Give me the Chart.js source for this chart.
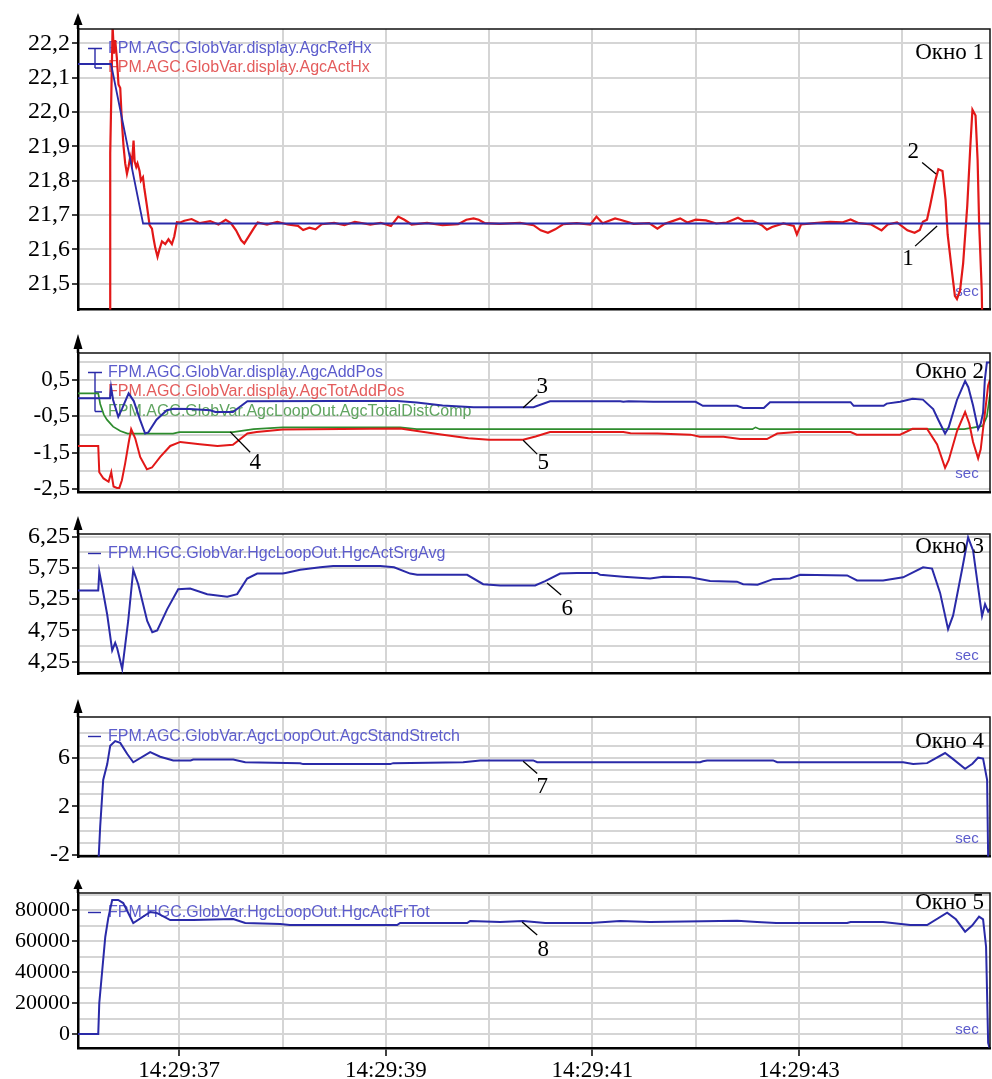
<!DOCTYPE html>
<html lang="ru">
<head>
<meta charset="utf-8">
<title>AGC / HGC — Окна 1–5</title>
<script src="https://cdn.jsdelivr.net/npm/chart.js@4.4.1/dist/chart.umd.min.js"></script>
<style>
  html, body { margin: 0; padding: 0; background: #fff; overflow: hidden; }
  #wrap { position: relative; width: 992px; height: 1079px; }
  canvas { position: absolute; left: 0; }
</style>
</head>
<body>
<div id="wrap">
  <canvas id="w1" width="992" height="326" style="top:0px"></canvas>
  <canvas id="w2" width="992" height="182" style="top:326px"></canvas>
  <canvas id="w3" width="992" height="182" style="top:508px"></canvas>
  <canvas id="w4" width="992" height="183" style="top:690px"></canvas>
  <canvas id="w5" width="992" height="206" style="top:873px"></canvas>
</div>
<script>
// time axis (seconds of 14:29:xx)
const X_MIN = 36.02, X_MAX = 44.85;
const secGrid = [37, 38, 39, 40, 41, 42, 43, 44];
const secLabels = [37, 39, 41, 43];

// Окно 1
const agcRefHx = [[36.02, 22.14], [36.34, 22.14], [36.65, 21.675], [44.85, 21.675]];
const agcActHx = [
  [36.33, 21.30], [36.332, 21.88], [36.342, 22.04], [36.355, 22.25], [36.368, 22.17], [36.38, 22.21],
  [36.397, 22.155], [36.412, 22.08], [36.429, 22.07], [36.445, 21.97], [36.461, 21.90], [36.477, 21.85],
  [36.494, 21.82], [36.509, 21.84], [36.526, 21.87], [36.542, 21.85], [36.558, 21.917], [36.568, 21.856],
  [36.584, 21.84], [36.596, 21.85], [36.616, 21.828], [36.629, 21.80], [36.649, 21.81], [36.661, 21.78],
  [36.687, 21.727], [36.713, 21.67], [36.736, 21.66], [36.751, 21.632], [36.768, 21.604], [36.79, 21.578],
  [36.809, 21.60], [36.833, 21.623], [36.865, 21.615], [36.896, 21.629], [36.929, 21.615], [36.952, 21.637],
  [36.978, 21.679], [37.01, 21.678], [37.05, 21.683], [37.12, 21.688], [37.2, 21.676], [37.3, 21.682],
  [37.38, 21.672], [37.45, 21.686], [37.5, 21.676], [37.55, 21.655], [37.6, 21.626], [37.63, 21.617],
  [37.67, 21.636], [37.72, 21.66], [37.76, 21.678], [37.85, 21.672], [37.95, 21.68], [38.05, 21.672],
  [38.15, 21.668], [38.2, 21.656], [38.26, 21.663], [38.32, 21.658], [38.38, 21.673], [38.5, 21.677],
  [38.6, 21.67], [38.7, 21.68], [38.85, 21.672], [38.95, 21.677], [39.05, 21.668], [39.12, 21.695],
  [39.18, 21.686], [39.25, 21.672], [39.4, 21.677], [39.55, 21.67], [39.7, 21.673], [39.78, 21.686],
  [39.85, 21.69], [39.9, 21.686], [39.96, 21.676], [40.1, 21.674], [40.3, 21.677], [40.43, 21.67],
  [40.5, 21.655], [40.57, 21.648], [40.64, 21.658], [40.72, 21.673], [40.85, 21.676], [40.98, 21.672],
  [41.04, 21.695], [41.1, 21.676], [41.22, 21.69], [41.27, 21.686], [41.4, 21.674], [41.55, 21.676],
  [41.63, 21.66], [41.7, 21.674], [41.85, 21.69], [41.92, 21.678], [42.0, 21.686], [42.1, 21.684],
  [42.2, 21.675], [42.3, 21.678], [42.41, 21.692], [42.47, 21.682], [42.55, 21.683], [42.64, 21.67],
  [42.69, 21.657], [42.74, 21.665], [42.85, 21.675], [42.95, 21.668], [42.98, 21.643], [43.02, 21.672],
  [43.15, 21.676], [43.3, 21.68], [43.42, 21.678], [43.5, 21.687], [43.58, 21.676], [43.7, 21.672],
  [43.8, 21.655], [43.86, 21.672], [43.95, 21.678], [44.05, 21.655], [44.12, 21.648], [44.17, 21.656],
  [44.2, 21.68], [44.24, 21.686], [44.27, 21.727], [44.32, 21.80], [44.35, 21.833], [44.39, 21.828],
  [44.42, 21.744], [44.44, 21.643], [44.48, 21.539], [44.51, 21.464], [44.53, 21.455], [44.56, 21.48],
  [44.59, 21.559], [44.63, 21.727], [44.66, 21.903], [44.68, 22.007], [44.71, 21.99], [44.73, 21.86],
  [44.745, 21.673], [44.77, 21.48], [44.78, 21.30]
];
const y1Grid = [21.5, 21.6, 21.7, 21.8, 21.9, 22.0, 22.1, 22.2];
const y1Labels = y1Grid;

// Окно 2
const agcAddPos = [
  [36.02, 0.0], [36.33, 0.0], [36.34, 0.3], [36.36, -0.05], [36.41, -0.51], [36.445, -0.3], [36.51, 0.13],
  [36.56, -0.08], [36.62, -0.59], [36.67, -0.97], [36.70, -0.94], [36.78, -0.59], [36.88, -0.33],
  [36.945, -0.29], [37.1, -0.3], [37.3, -0.33], [37.35, -0.38], [37.52, -0.38], [37.66, -0.085],
  [38.5, -0.08], [39.11, -0.08], [39.3, -0.12], [39.55, -0.2], [39.85, -0.25], [40.43, -0.25],
  [40.59, -0.085], [41.27, -0.085], [41.3, -0.1], [41.35, -0.085], [41.59, -0.1], [42.0, -0.1],
  [42.07, -0.21], [42.4, -0.21], [42.46, -0.27], [42.66, -0.27], [42.72, -0.11], [43.5, -0.11],
  [43.53, -0.21], [43.82, -0.21], [43.85, -0.15], [43.98, -0.1], [44.1, -0.02], [44.2, -0.04],
  [44.3, -0.3], [44.35, -0.6], [44.415, -0.97], [44.45, -0.8], [44.53, -0.05], [44.609, 0.47],
  [44.64, 0.3], [44.686, -0.2], [44.735, -0.85], [44.76, -0.7], [44.783, -0.4], [44.8, 0.5],
  [44.82, 0.98], [44.85, 0.98]
];
const agcTotAddPos = [
  [36.02, -1.31], [36.216, -1.31], [36.226, -2.03], [36.267, -2.2], [36.316, -2.29], [36.342, -2.03],
  [36.364, -2.42], [36.397, -2.46], [36.42, -2.46], [36.445, -2.25], [36.477, -1.78], [36.51, -1.23],
  [36.535, -0.85], [36.574, -1.1], [36.622, -1.61], [36.687, -1.95], [36.736, -1.9], [36.816, -1.61],
  [36.913, -1.31], [37.01, -1.2], [37.2, -1.26], [37.37, -1.31], [37.52, -1.28], [37.66, -0.97],
  [37.75, -0.93], [38.0, -0.86], [39.14, -0.83], [39.5, -0.98], [39.8, -1.1], [40.0, -1.14],
  [40.33, -1.14], [40.45, -1.05], [40.59, -0.93], [41.3, -0.93], [41.37, -0.96], [41.63, -0.97],
  [41.95, -1.0], [42.04, -1.06], [42.27, -1.06], [42.43, -1.12], [42.69, -1.12], [42.79, -0.97],
  [42.98, -0.93], [43.5, -0.93], [43.56, -1.0], [43.98, -1.0], [44.1, -0.84], [44.24, -0.84],
  [44.338, -1.27], [44.415, -1.91], [44.45, -1.7], [44.531, -0.9], [44.609, -0.38], [44.65, -0.7],
  [44.686, -1.2], [44.735, -1.65], [44.76, -1.4], [44.783, -0.84], [44.832, 0.35], [44.85, 0.5]
];
const agcTotalDistComp = [
  [36.02, 0.13], [36.216, 0.13], [36.235, -0.16], [36.27, -0.45], [36.3, -0.59], [36.36, -0.78],
  [36.43, -0.9], [36.5, -0.97], [36.94, -0.97], [37.0, -0.93], [37.52, -0.93], [37.72, -0.85],
  [38.0, -0.8], [39.14, -0.8], [39.3, -0.85], [42.55, -0.85], [42.58, -0.8], [42.62, -0.85],
  [44.6, -0.85], [44.7, -0.8], [44.78, -0.76], [44.82, -0.5], [44.85, 0.1]
];
const y2Grid = [-2.5, -2, -1.5, -1, -0.5, 0, 0.5, 1];
const y2Labels = [-2.5, -1.5, -0.5, 0.5];

// Окно 3
const hgcActSrgAvg = [
  [36.02, 5.39], [36.216, 5.39], [36.226, 5.69], [36.255, 5.44], [36.303, 5.0], [36.351, 4.43],
  [36.38, 4.55], [36.4, 4.46], [36.448, 4.13], [36.506, 4.9], [36.555, 5.72], [36.603, 5.49],
  [36.69, 4.9], [36.739, 4.72], [36.787, 4.75], [36.884, 5.09], [36.99, 5.41], [37.106, 5.42],
  [37.271, 5.33], [37.465, 5.29], [37.561, 5.33], [37.658, 5.58], [37.755, 5.66], [38.0, 5.66],
  [38.03, 5.67], [38.171, 5.72], [38.365, 5.76], [38.491, 5.78], [38.946, 5.78], [39.08, 5.76],
  [39.236, 5.66], [39.304, 5.64], [39.788, 5.64], [39.943, 5.49], [40.107, 5.47], [40.446, 5.47],
  [40.543, 5.54], [40.688, 5.66], [40.85, 5.67], [41.046, 5.67], [41.076, 5.64], [41.298, 5.61],
  [41.559, 5.58], [41.685, 5.61], [41.947, 5.6], [42.14, 5.54], [42.4, 5.53], [42.46, 5.49],
  [42.6, 5.48], [42.75, 5.57], [42.915, 5.58], [43.012, 5.64], [43.467, 5.63], [43.563, 5.55],
  [43.815, 5.55], [44.009, 5.6], [44.202, 5.76], [44.289, 5.74], [44.367, 5.35], [44.444, 4.77],
  [44.493, 4.99], [44.58, 5.73], [44.638, 6.24], [44.686, 6.03], [44.773, 4.98], [44.802, 5.17],
  [44.832, 5.05], [44.85, 5.1]
];
const y3Grid = [4.25, 4.5, 4.75, 5, 5.25, 5.5, 5.75, 6, 6.25];
const y3Labels = [4.25, 4.75, 5.25, 5.75, 6.25];

// Окно 4
const agcStandStretch = [
  [36.21, -4], [36.235, 0.36], [36.264, 4.17], [36.303, 5.47], [36.332, 6.99], [36.38, 7.37],
  [36.429, 7.22], [36.497, 6.3], [36.555, 5.62], [36.719, 6.46], [36.816, 6.08], [36.942, 5.77],
  [37.11, 5.77], [37.136, 5.85], [37.523, 5.85], [37.639, 5.62], [38.171, 5.54], [38.2, 5.47],
  [39.043, 5.47], [39.072, 5.55], [39.749, 5.62], [39.914, 5.77], [40.427, 5.77], [40.466, 5.62],
  [42.044, 5.62], [42.07, 5.7], [42.111, 5.77], [42.75, 5.77], [42.79, 5.62], [44.009, 5.62],
  [44.106, 5.47], [44.241, 5.55], [44.415, 6.38], [44.49, 5.9], [44.609, 5.09], [44.68, 5.5],
  [44.735, 6.0], [44.783, 5.92], [44.822, 4.17], [44.835, -4]
];
const y4Grid = [-2, -1, 0, 1, 2, 3, 4, 5, 6, 7, 8];
const y4Labels = [-2, 2, 6];

// Окно 5
const hgcActFrTot = [
  [36.02, 0], [36.216, 0], [36.226, 20000], [36.255, 41300], [36.284, 62600], [36.313, 74800],
  [36.351, 86450], [36.409, 86450], [36.458, 84500], [36.555, 71600], [36.719, 78700], [36.787, 78000],
  [36.913, 73500], [37.136, 73500], [37.523, 74200], [37.639, 71600], [37.978, 71000], [38.07, 70300],
  [39.11, 70300], [39.139, 71600], [39.788, 71600], [39.817, 72900], [40.107, 72300], [40.33, 72900],
  [40.543, 71600], [40.979, 71600], [41.269, 72900], [41.559, 72300], [42.402, 73100], [42.595, 72300],
  [42.78, 71600], [43.467, 71600], [43.5, 72300], [43.815, 72300], [44.077, 70300], [44.241, 70300],
  [44.435, 78300], [44.52, 74000], [44.609, 66000], [44.677, 70000], [44.744, 75700], [44.783, 74000],
  [44.812, 56300], [44.832, -5700], [44.85, -10000]
];
const y5Grid = [0, 10000, 20000, 30000, 40000, 50000, 60000, 70000, 80000, 90000];
const y5Labels = [0, 20000, 40000, 60000, 80000];

const BLUE = 'rgb(42,42,168)', RED = 'rgb(226,24,24)', GREEN = 'rgb(46,140,46)';
const BLUE_T = 'rgb(92,92,204)', RED_T = 'rgb(228,92,92)', GREEN_T = 'rgb(96,164,96)';
const GRID = '#d5d5d5';
const SERIF = '"Liberation Serif", "Times New Roman", serif';
const SANS = '"Liberation Sans", Arial, sans-serif';

const has = (list, v) => list.some(u => Math.abs(u - v) < 1e-6);
const comma = (v, d) => v.toFixed(d).replace('.', ',');

// legend, frame, axis arrow, window title, "sec" and numbered callouts
const decor = {
  id: 'decor',
  beforeDatasetsDraw(chart, args, o) {
    const { ctx, chartArea: a } = chart;
    const sets = chart.data.datasets;
    ctx.save();
    ctx.font = '16px ' + SANS;
    ctx.textBaseline = 'middle';
    ctx.textAlign = 'left';
    const ys = sets.map((s, i) => a.top + 19.5 + i * 19.5);
    sets.forEach((s, i) => {
      ctx.fillStyle = s.textColor;
      ctx.fillText(s.label, 108, ys[i]);
    });
    ctx.strokeStyle = sets[0].borderColor;
    ctx.lineWidth = 1.4;
    ctx.beginPath();
    if (sets.length === 1) {
      ctx.moveTo(88, ys[0]); ctx.lineTo(101, ys[0]);
    } else {
      ctx.moveTo(88, ys[0]); ctx.lineTo(102, ys[0]);
      ctx.moveTo(95, ys[0]); ctx.lineTo(95, ys[ys.length - 1]);
      for (let i = 1; i < ys.length; i++) { ctx.moveTo(95, ys[i]); ctx.lineTo(102, ys[i]); }
    }
    ctx.stroke();
    ctx.font = '15px ' + SANS;
    ctx.fillStyle = BLUE_T;
    ctx.textAlign = 'center';
    ctx.fillText('sec', 967, a.bottom - 18);
    ctx.restore();
  },
  afterDatasetsDraw(chart, args, o) {
    const { ctx, chartArea: a, scales } = chart;
    ctx.save();
    // frame top/right
    ctx.strokeStyle = '#111';
    ctx.lineWidth = 1.5;
    ctx.beginPath();
    ctx.moveTo(a.left, a.top); ctx.lineTo(a.right, a.top); ctx.lineTo(a.right, a.bottom);
    ctx.stroke();
    // arrow on the y axis
    ctx.fillStyle = '#000';
    ctx.strokeStyle = '#000';
    ctx.lineWidth = 2.5;
    ctx.beginPath();
    ctx.moveTo(a.left, a.top); ctx.lineTo(a.left, a.top - 5);
    ctx.stroke();
    ctx.beginPath();
    ctx.moveTo(a.left, a.top - o.arrow);
    ctx.lineTo(a.left - 4.5, a.top - 4);
    ctx.lineTo(a.left + 4.5, a.top - 4);
    ctx.closePath();
    ctx.fill();
    // window title
    ctx.font = '23px ' + SERIF;
    ctx.textAlign = 'right';
    ctx.textBaseline = 'middle';
    ctx.fillText(o.title, a.right - 6, a.top + o.titleDy);
    // callouts
    ctx.textAlign = 'center';
    ctx.lineWidth = 1.3;
    o.notes.forEach(n => {
      const px = p => [scales.x.getPixelForValue(p[0]), scales.y.getPixelForValue(p[1])];
      const t = px(n.at), f = px(n.from), e = px(n.to);
      ctx.beginPath();
      ctx.moveTo(f[0], f[1]); ctx.lineTo(e[0], e[1]);
      ctx.stroke();
      ctx.fillText(n.n, t[0], t[1]);
    });
    ctx.restore();
  }
};

function makePanel(id, o) {
  return new Chart(document.getElementById(id), {
    type: 'line',
    data: {
      datasets: o.series.map(s => ({
        label: s.label,
        data: s.data.map(p => ({ x: p[0], y: p[1] })),
        borderColor: s.color,
        textColor: s.text,
        borderWidth: s.width || 2,
        pointRadius: 0,
        tension: 0,
        fill: false
      }))
    },
    options: {
      responsive: false,
      animation: false,
      events: [],
      layout: { padding: { top: o.padTop, right: 2, bottom: o.padBottom, left: 0 } },
      plugins: {
        legend: { display: false },
        tooltip: { enabled: false },
        decor: { title: o.title, titleDy: o.titleDy, arrow: o.arrow, notes: o.notes }
      },
      scales: {
        x: {
          type: 'linear',
          min: X_MIN,
          max: X_MAX,
          afterBuildTicks: s => { s.ticks = secGrid.map(v => ({ value: v })); },
          afterFit: s => { s.height = o.xAxis ? 31 : 0; },
          grid: {
            color: GRID,
            lineWidth: 2,
            drawTicks: !!o.xAxis,
            tickLength: 8,
            tickWidth: 1.5,
            tickColor: c => (c.tick && has(secLabels, c.tick.value)) ? '#000' : 'rgba(0,0,0,0)'
          },
          border: { color: '#000', width: 2.5 },
          ticks: {
            display: !!o.xAxis,
            autoSkip: false,
            maxRotation: 0,
            padding: 1,
            color: '#000',
            font: { family: SERIF, size: 23 },
            callback: v => has(secLabels, v) ? '14:29:' + v : ''
          }
        },
        y: {
          min: o.yMin,
          max: o.yMax,
          afterBuildTicks: s => { s.ticks = o.yGrid.map(v => ({ value: v })); },
          afterFit: s => { s.width = 78; },
          grid: {
            color: GRID,
            lineWidth: 2,
            tickLength: 6,
            tickWidth: 1.5,
            tickColor: c => (c.tick && has(o.yLabels, c.tick.value)) ? '#000' : 'rgba(0,0,0,0)'
          },
          border: { color: '#000', width: 2.5 },
          ticks: {
            autoSkip: false,
            padding: 2,
            color: '#000',
            font: { family: SERIF, size: o.yFont },
            callback: v => has(o.yLabels, v) ? comma(v, o.dec) : ''
          }
        }
      }
    },
    plugins: [decor]
  });
}

makePanel('w1', {
  padTop: 29, padBottom: 5, yMin: 21.424, yMax: 22.242, yGrid: y1Grid, yLabels: y1Labels, dec: 1, yFont: 24,
  title: 'Окно 1', titleDy: 24, arrow: 16,
  series: [
    { label: 'FPM.AGC.GlobVar.display.AgcRefHx', data: agcRefHx, color: BLUE, text: BLUE_T, width: 1.8 },
    { label: 'FPM.AGC.GlobVar.display.AgcActHx', data: agcActHx, color: RED, text: RED_T, width: 2.2 }
  ],
  notes: [
    { n: '1', at: [44.057, 21.573], from: [44.125, 21.609], to: [44.338, 21.668] },
    { n: '2', at: [44.106, 21.884], from: [44.193, 21.853], to: [44.328, 21.819] }
  ]
});

makePanel('w2', {
  padTop: 27, padBottom: 5, yMin: -2.577, yMax: 1.237, yGrid: y2Grid, yLabels: y2Labels, dec: 1, yFont: 23,
  title: 'Окно 2', titleDy: 19, arrow: 19,
  series: [
    { label: 'FPM.AGC.GlobVar.display.AgcAddPos', data: agcAddPos, color: BLUE, text: BLUE_T },
    { label: 'FPM.AGC.GlobVar.display.AgcTotAddPos', data: agcTotAddPos, color: RED, text: RED_T },
    { label: 'FPM.AGC.GlobVar.AgcLoopOut.AgcTotalDistComp', data: agcTotalDistComp, color: GREEN, text: GREEN_T, width: 1.7 }
  ],
  notes: [
    { n: '3', at: [40.514, 0.297], from: [40.33, -0.263], to: [40.466, 0.093] },
    { n: '5', at: [40.524, -1.788], from: [40.33, -1.153], to: [40.466, -1.534] },
    { n: '4', at: [37.736, -1.788], from: [37.494, -0.924], to: [37.687, -1.483] }
  ]
});

makePanel('w3', {
  padTop: 26, padBottom: 5, yMin: 4.057, yMax: 6.294, yGrid: y3Grid, yLabels: y3Labels, dec: 2, yFont: 24,
  title: 'Окно 3', titleDy: 13, arrow: 18,
  series: [
    { label: 'FPM.HGC.GlobVar.HgcLoopOut.HgcActSrgAvg', data: hgcActSrgAvg, color: BLUE, text: BLUE_T }
  ],
  notes: [
    { n: '6', at: [40.756, 5.094], from: [40.562, 5.509], to: [40.698, 5.317] }
  ]
});

makePanel('w4', {
  padTop: 27, padBottom: 5, yMin: -2.15, yMax: 9.35, yGrid: y4Grid, yLabels: y4Labels, dec: 0, yFont: 24,
  title: 'Окно 4', titleDy: 25, arrow: 18,
  series: [
    { label: 'FPM.AGC.GlobVar.AgcLoopOut.AgcStandStretch', data: agcStandStretch, color: BLUE, text: BLUE_T }
  ],
  notes: [
    { n: '7', at: [40.514, 3.56], from: [40.33, 5.7], to: [40.466, 4.7] }
  ]
});

makePanel('w5', {
  padTop: 20, padBottom: 0, xAxis: true, yMin: -9032, yMax: 90968, yGrid: y5Grid, yLabels: y5Labels, dec: 0, yFont: 22,
  title: 'Окно 5', titleDy: 10, arrow: 14,
  series: [
    { label: 'FPM.HGC.GlobVar.HgcLoopOut.HgcActFrTot', data: hgcActFrTot, color: BLUE, text: BLUE_T }
  ],
  notes: [
    { n: '8', at: [40.524, 54194], from: [40.32, 72258], to: [40.466, 63871] }
  ]
});
</script>
</body>
</html>
